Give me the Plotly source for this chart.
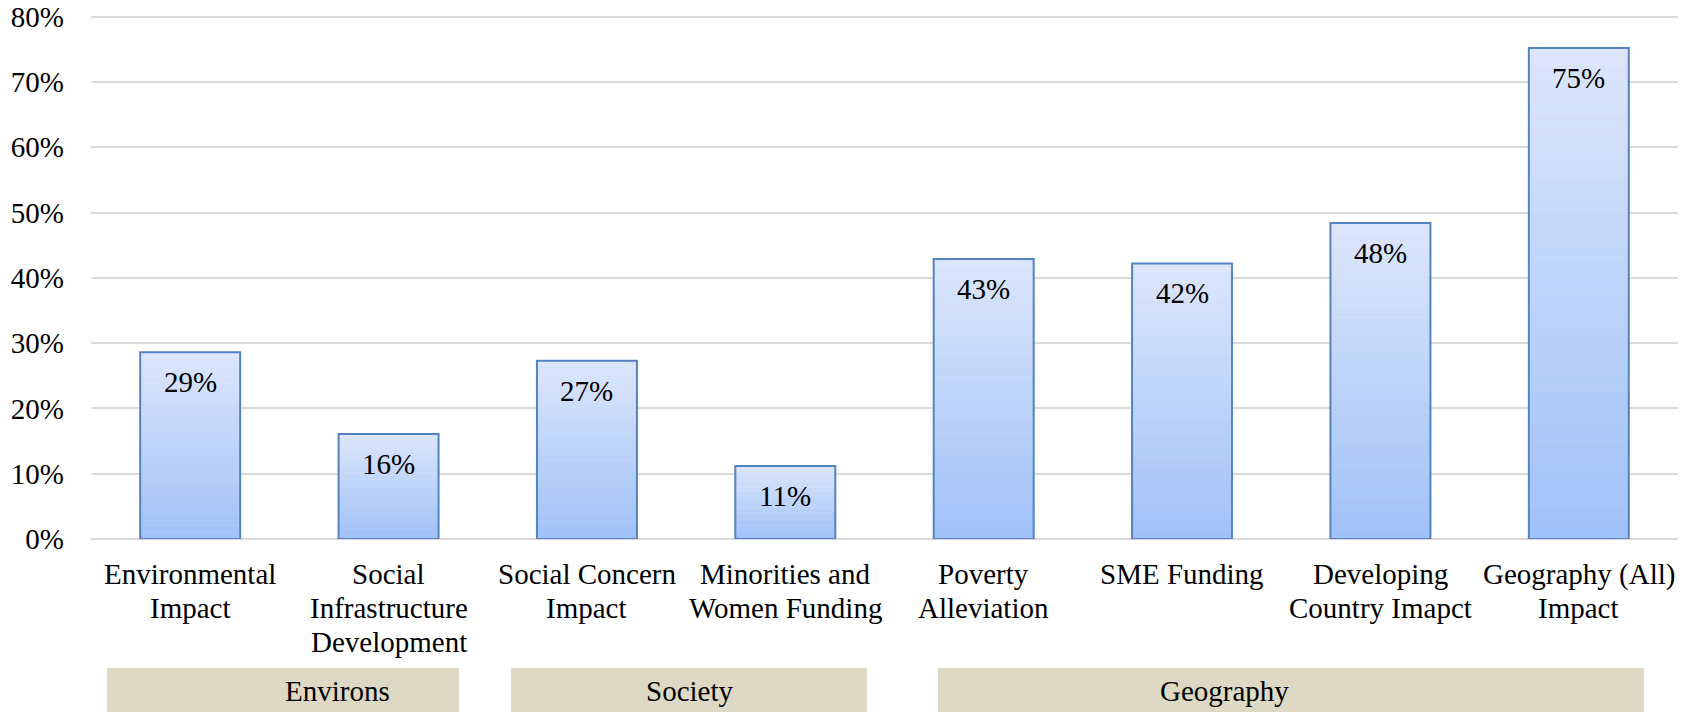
import plotly.graph_objects as go

categories = ["Environmental Impact", "Social Infrastructure Development",
              "Social Concern Impact", "Minorities and Women Funding",
              "Poverty Alleviation", "SME Funding",
              "Developing Country Imapct", "Geography (All) Impact"]
category_lines = [["Environmental", "Impact"], ["Social", "Infrastructure", "Development"],
                  ["Social Concern", "Impact"], ["Minorities and", "Women Funding"],
                  ["Poverty", "Alleviation"], ["SME Funding"],
                  ["Developing", "Country Imapct"], ["Geography (All)", "Impact"]]
values = [0.286, 0.161, 0.273, 0.112, 0.429, 0.422, 0.484, 0.752]
value_labels = ["29%", "16%", "27%", "11%", "43%", "42%", "48%", "75%"]
groups = ["Environs", "Society", "Geography"]
y_ticks = [0, 0.1, 0.2, 0.3, 0.4, 0.5, 0.6, 0.7, 0.8]
y_tick_labels = ["0%", "10%", "20%", "30%", "40%", "50%", "60%", "70%", "80%"]

FONT = "Liberation Serif, Times New Roman, serif"
FS = 29
W, H = 1687, 712
L, R, T, B = 91, 9, 15, 173
Y_TOP = 0.8026

top_rgb = (220, 230, 252)
bot_rgb = (160, 193, 248)
N = 30

fig = go.Figure()
for k in range(N):
    f = (k + 0.5) / N
    c = tuple(int(round(bot_rgb[i] + (top_rgb[i] - bot_rgb[i]) * f)) for i in range(3))
    col = "rgb(%d,%d,%d)" % c
    fig.add_trace(go.Bar(
        x=categories, y=[v / N for v in values],
        base=[v * k / N for v in values],
        marker=dict(color=col, line=dict(width=0.6, color=col)),
        width=0.504, hoverinfo="skip", showlegend=False))

fig.add_trace(go.Bar(
    x=categories, y=values, width=0.504,
    marker=dict(color="rgba(0,0,0,0)", line=dict(color="#5383C1", width=2)),
    showlegend=False))

for cat, v, lab in zip(categories, values, value_labels):
    fig.add_annotation(x=cat, y=v, text=lab, showarrow=False, yanchor="middle",
                       yshift=-30, font=dict(family=FONT, size=FS, color="#000000"))

# category labels, one annotation per line
for cat, lines in zip(categories, category_lines):
    for i, line in enumerate(lines):
        fig.add_annotation(x=cat, y=0, text=line, showarrow=False, yanchor="middle",
                           xanchor="center", yshift=-(35 + 34 * i),
                           font=dict(family=FONT, size=FS, color="#000000"))

# group boxes (pixel -> paper)
plot_w = W - L - R
plot_h = H - T - B
def px(x):
    return (x - L) / plot_w
def py(y):
    return (H - B - y) / plot_h

box_px = [(107, 459), (511, 867), (938, 1644)]
for name, (x0, x1) in zip(groups, box_px):
    fig.add_shape(type="rect", xref="paper", yref="paper",
                  x0=px(x0), x1=px(x1), y0=py(668), y1=py(720),
                  fillcolor="#DDD9C4", line=dict(width=0), layer="above")
    fig.add_annotation(xref="paper", yref="paper", x=(px(x0) + px(x1)) / 2, y=py(691),
                       text=name, showarrow=False, yanchor="middle",
                       font=dict(family=FONT, size=FS, color="#000000"))

fig.update_layout(
    width=W, height=H, barmode="overlay",
    margin=dict(l=L, r=R, t=T, b=B, pad=0),
    paper_bgcolor="white", plot_bgcolor="white",
    font=dict(family=FONT, size=FS, color="#000000"),
    xaxis=dict(showgrid=False, showline=False, ticks="", showticklabels=False,
               automargin=False),
    yaxis=dict(range=[0, Y_TOP], tickvals=y_ticks, ticktext=y_tick_labels,
               showgrid=True, gridcolor="#D9D9D9", gridwidth=1.5,
               zeroline=True, zerolinecolor="#D9D9D9", zerolinewidth=1.5,
               showline=False, ticks="", ticklabelstandoff=26, automargin=False,
               tickfont=dict(family=FONT, size=FS)),
)

fig.write_html("out.html")
